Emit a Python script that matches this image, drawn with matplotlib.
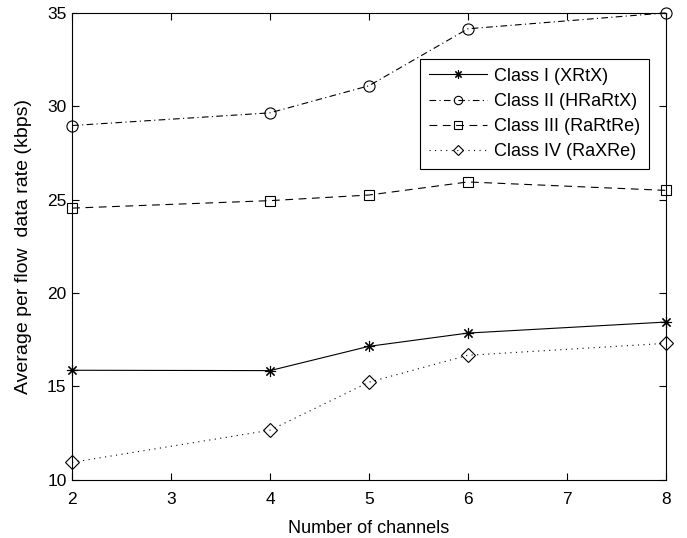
import matplotlib
matplotlib.use('Agg')
import matplotlib.pyplot as plt

plt.rcParams['font.family'] = ['Liberation Sans', 'DejaVu Sans']

# data
channels = [2, 4, 5, 6, 8]
class1 = [15.87, 15.85, 17.15, 17.86, 18.45]
class2 = [28.97, 29.65, 31.1, 34.15, 35.0]
class3 = [24.55, 24.95, 25.25, 25.95, 25.5]
class4 = [10.94, 12.66, 15.23, 16.67, 17.31]
labels = ['Class I (XRtX)', 'Class II (HRaRtX)', 'Class III (RaRtRe)', 'Class IV (RaXRe)']

fig = plt.figure(figsize=(6.87, 5.38), dpi=100)
ax = fig.add_axes([0.105, 0.108, 0.864, 0.868])

lw = 0.8
asterisk = (8, 2, 0)
ax.plot(channels, class1, color='black', linestyle='-', marker=asterisk, markersize=8,
        markeredgewidth=0.8, linewidth=lw, label=labels[0], clip_on=False)
ax.plot(channels, class2, color='black', linestyle=(0, (6, 3, 1, 3)), marker='o', markersize=8,
        markerfacecolor='none', markeredgewidth=0.8, linewidth=lw, label=labels[1], clip_on=False)
ax.plot(channels, class3, color='black', linestyle=(0, (7, 5)), marker='s', markersize=7,
        markerfacecolor='none', markeredgewidth=0.8, linewidth=lw, label=labels[2], clip_on=False)
ax.plot(channels, class4, color='black', linestyle=(0, (1, 4)), marker='D', markersize=7,
        markerfacecolor='none', markeredgewidth=0.8, linewidth=lw, label=labels[3], clip_on=False)

ax.set_xlim(2, 8)
ax.set_ylim(10, 35)
ax.set_xticks([2, 3, 4, 5, 6, 7, 8])
ax.set_yticks([10, 15, 20, 25, 30, 35])
ax.tick_params(direction='in', top=True, right=True, labelsize=12.5, length=5, width=0.8)
ax.tick_params(axis='x', pad=9)
ax.tick_params(axis='y', pad=4)
for s in ax.spines.values():
    s.set_linewidth(0.8)

ax.set_xlabel('Number of channels', fontsize=13, labelpad=9)
ax.set_ylabel('Average per flow  data rate (kbps)', fontsize=14, labelpad=11)

leg = ax.legend(loc='upper right', bbox_to_anchor=(0.972, 0.902), fontsize=13,
                fancybox=False, edgecolor='black', framealpha=1, handlelength=3.2,
                borderpad=0.5, labelspacing=0.45, handletextpad=0.4, borderaxespad=0,
                markerscale=0.75)
leg.get_frame().set_linewidth(0.8)

plt.savefig('out.png', dpi=100)
